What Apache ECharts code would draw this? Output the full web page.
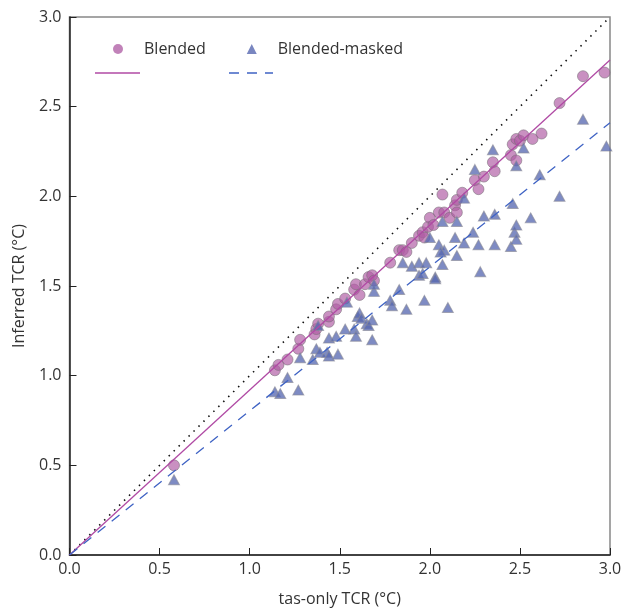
<!DOCTYPE html>
<html>
<head>
<meta charset="utf-8">
<script src="https://cdn.jsdelivr.net/npm/echarts@6/dist/echarts.min.js"></script>
<style>
  html, body { margin: 0; padding: 0; background: #fff; }
  #chart { width: 625px; height: 612px; }
</style>
</head>
<body>
<div id="chart"></div>
<script>
// Blended TCR estimates: [tas-only TCR, inferred TCR]
const blended = [
  [0.58, 0.50], [1.14, 1.03], [1.16, 1.06], [1.21, 1.09], [1.27, 1.15], [1.28, 1.20],
  [1.36, 1.23], [1.37, 1.26], [1.38, 1.29], [1.44, 1.30], [1.44, 1.33], [1.48, 1.37],
  [1.49, 1.40], [1.53, 1.43], [1.58, 1.48], [1.59, 1.51], [1.61, 1.45], [1.64, 1.51],
  [1.66, 1.55], [1.68, 1.56], [1.69, 1.53], [1.78, 1.63], [1.83, 1.70], [1.85, 1.70],
  [1.87, 1.69], [1.90, 1.74], [1.94, 1.78], [1.96, 1.80], [1.97, 1.77], [1.99, 1.83],
  [2.00, 1.88], [2.02, 1.84], [2.05, 1.91], [2.08, 1.91], [2.11, 1.88], [2.14, 1.95],
  [2.15, 1.91], [2.15, 1.98], [2.18, 2.02], [2.07, 2.01], [2.25, 2.09], [2.27, 2.04],
  [2.30, 2.11], [2.35, 2.19], [2.36, 2.14], [2.45, 2.23], [2.46, 2.29], [2.48, 2.20],
  [2.48, 2.32], [2.50, 2.31], [2.52, 2.34], [2.57, 2.32], [2.62, 2.35], [2.72, 2.52],
  [2.85, 2.67], [2.97, 2.69]
];

// Blended-masked TCR estimates: [tas-only TCR, inferred TCR]
const blendedMasked = [
  [0.58, 0.42], [1.14, 0.91], [1.17, 0.90], [1.21, 0.99], [1.27, 0.92], [1.28, 1.10],
  [1.35, 1.09], [1.37, 1.15], [1.39, 1.13], [1.38, 1.28], [1.43, 1.13], [1.44, 1.11],
  [1.49, 1.12], [1.44, 1.21], [1.48, 1.22], [1.53, 1.26], [1.54, 1.41], [1.58, 1.26],
  [1.59, 1.22], [1.60, 1.33], [1.61, 1.35], [1.62, 1.32], [1.65, 1.29], [1.66, 1.28],
  [1.68, 1.31], [1.68, 1.20], [1.69, 1.47], [1.69, 1.51], [1.78, 1.42], [1.79, 1.39],
  [1.83, 1.48], [1.87, 1.37], [1.85, 1.63], [1.90, 1.61], [1.94, 1.63], [1.98, 1.63],
  [1.94, 1.56], [1.96, 1.57], [2.03, 1.55], [2.03, 1.54], [1.97, 1.42], [2.00, 1.77],
  [2.05, 1.73], [2.08, 1.70], [2.06, 1.69], [2.15, 1.67], [2.07, 1.62], [2.10, 1.38],
  [2.07, 1.86], [2.15, 1.86], [2.14, 1.77], [2.19, 1.74], [2.19, 1.99], [2.24, 1.80],
  [2.27, 1.73], [2.28, 1.58], [2.25, 2.15], [2.30, 1.89], [2.35, 2.26], [2.36, 1.90],
  [2.36, 1.73], [2.45, 1.72], [2.46, 1.96], [2.47, 1.80], [2.48, 1.76], [2.48, 1.84],
  [2.48, 2.17], [2.52, 2.27], [2.56, 1.88], [2.61, 2.12], [2.72, 2.00], [2.85, 2.43],
  [2.98, 2.28]
];

// Fitted lines (through the origin) and the 1:1 reference line
const blendedFit = [[0, 0], [3, 2.76]];
const maskedFit = [[0, 0], [3, 2.41]];
const oneToOne = [[0, 0], [3, 3]];

const FONT = '"Open Sans", "Noto Sans", sans-serif';
const TEXT = '#333';

const chart = echarts.init(document.getElementById('chart'), null, { renderer: 'canvas' });

const axisCommon = {
  type: 'value',
  min: 0,
  max: 3,
  interval: 0.5,
  axisLine: { show: true, lineStyle: { color: '#222', width: 1.5 } },
  axisTick: { show: true, inside: true, length: 7, lineStyle: { color: '#222', width: 1 } },
  splitLine: { show: false },
  axisLabel: {
    color: TEXT,
    fontFamily: FONT,
    fontSize: 16,
    formatter: v => v.toFixed(1)
  },
  nameTextStyle: { color: TEXT, fontFamily: FONT, fontSize: 16 }
};

chart.setOption({
  animation: false,
  backgroundColor: '#fff',
  grid: {
    left: 69.5, right: 15, top: 17, bottom: 54,
    show: true, borderColor: '#888', borderWidth: 1.5, backgroundColor: 'transparent'
  },
  xAxis: Object.assign({}, axisCommon, {
    name: 'tas-only TCR (°C)',
    nameLocation: 'middle',
    nameGap: 36,
    axisLabel: Object.assign({}, axisCommon.axisLabel, { margin: 6 })
  }),
  yAxis: Object.assign({}, axisCommon, {
    name: 'Inferred TCR (°C)',
    nameLocation: 'middle',
    nameGap: 42,
    axisLabel: Object.assign({}, axisCommon.axisLabel, { margin: 8 })
  }),
  legend: {
    data: [
      { name: 'Blended', icon: 'circle', itemStyle: { color: '#b263a8', borderWidth: 0 } },
      { name: 'Blended-masked', icon: 'triangle', itemStyle: { color: '#5868b0', borderWidth: 0 } }
    ],
    left: 108,
    top: 36,
    itemWidth: 10,
    itemHeight: 10,
    itemGap: 41,
    textStyle: { color: TEXT, fontFamily: FONT, fontSize: 16, padding: [0, 0, 0, 16] }
  },
  graphic: [
    { type: 'line', shape: { x1: 95, y1: 73, x2: 140, y2: 73 },
      style: { stroke: '#b04aa4', lineWidth: 1.5 } },
    { type: 'line', shape: { x1: 229, y1: 73, x2: 273, y2: 73 },
      style: { stroke: '#3f63c4', lineWidth: 1.5, lineDash: [10, 8] } }
  ],
  series: [
    {
      name: 'Blended',
      type: 'scatter',
      data: blended,
      symbol: 'circle',
      symbolSize: 11,
      itemStyle: { color: 'rgba(176, 92, 164, 0.85)', borderColor: 'rgba(120,110,120,0.7)', borderWidth: 1 },
      z: 2
    },
    {
      name: 'Blended-masked',
      type: 'scatter',
      data: blendedMasked,
      symbol: 'triangle',
      symbolSize: [11, 10],
      itemStyle: { color: 'rgba(86, 102, 176, 0.95)', borderColor: 'rgba(140,140,150,0.8)', borderWidth: 1 },
      z: 3
    },
    {
      name: '1:1',
      type: 'line',
      data: oneToOne,
      showSymbol: false,
      symbol: 'none',
      lineStyle: { color: '#111', width: 1.6, type: [1.5, 5.5] },
      z: 4
    },
    {
      name: 'Blended fit',
      type: 'line',
      data: blendedFit,
      showSymbol: false,
      symbol: 'none',
      lineStyle: { color: '#b04aa4', width: 1.3 },
      z: 5
    },
    {
      name: 'Blended-masked fit',
      type: 'line',
      data: maskedFit,
      showSymbol: false,
      symbol: 'none',
      lineStyle: { color: '#3f63c4', width: 1.3, type: [10, 8] },
      z: 5
    }
  ]
});
</script>
</body>
</html>
